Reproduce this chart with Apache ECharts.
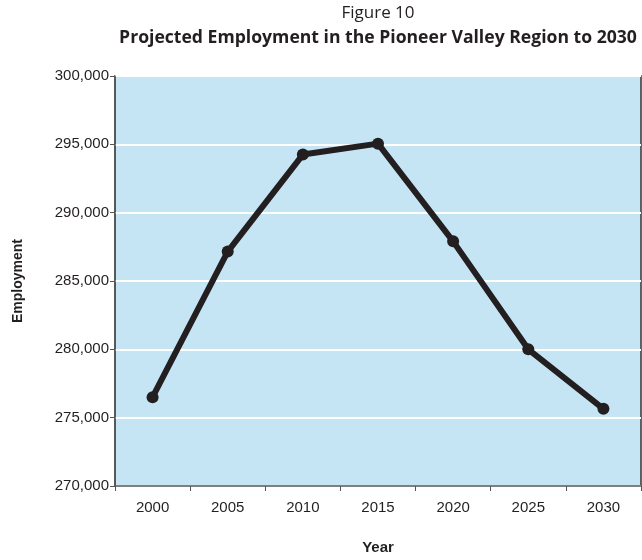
<!DOCTYPE html>
<html>
<head>
<meta charset="utf-8">
<script src="https://cdn.jsdelivr.net/npm/echarts@6/dist/echarts.min.js"></script>
<style>
  html, body { margin: 0; padding: 0; background: #fff; }
  #chart { width: 642px; height: 560px; }
</style>
</head>
<body>
<div id="chart"></div>
<script>
  // data
  var years = ['2000', '2005', '2010', '2015', '2020', '2025', '2030'];
  var employment = [276500, 287150, 294250, 295050, 287900, 280000, 275650];
  var yTicks = { min: 270000, max: 300000, step: 5000 };

  var ink = '#231f20';
  var labelFont = "'Liberation Sans Narrow', 'Arial Narrow', Arial, sans-serif";

  var myChart = echarts.init(document.getElementById('chart'));

  var option = {
    animation: false,
    graphic: [
      {
        type: 'text', x: 378, y: 13,
        style: { text: 'Figure 10', fill: ink, font: "17px 'Open Sans', sans-serif", align: 'center', verticalAlign: 'middle' }
      },
      {
        type: 'text', x: 378, y: 38,
        style: { text: 'Projected Employment in the Pioneer Valley Region to 2030', fill: ink, font: "bold 17.6px 'Open Sans', sans-serif", align: 'center', verticalAlign: 'middle' }
      }
    ],
    grid: {
      left: 115, right: 1, top: 76, bottom: 63,
      show: true,
      backgroundColor: '#c5e5f4',
      borderColor: '#333',
      borderWidth: 1.5
    },
    xAxis: {
      type: 'category',
      data: years,
      boundaryGap: true,
      name: 'Year',
      nameLocation: 'middle',
      nameGap: 54,
      nameTextStyle: { fontWeight: 'bold', fontSize: 15, color: ink, fontFamily: labelFont },
      axisLine: { lineStyle: { color: '#555', width: 1.5 } },
      axisTick: { show: true, length: 5, alignWithLabel: false, lineStyle: { color: '#555' } },
      axisLabel: { fontSize: 15, color: ink, margin: 14, fontFamily: labelFont },
      splitLine: { show: false }
    },
    yAxis: {
      type: 'value',
      min: yTicks.min,
      max: yTicks.max,
      interval: yTicks.step,
      name: 'Employment',
      nameLocation: 'middle',
      nameGap: 90,
      nameRotate: 90,
      nameTextStyle: { fontWeight: 'bold', fontSize: 14, color: ink, fontFamily: labelFont },
      axisLine: { show: true, lineStyle: { color: '#555', width: 1.5 } },
      axisTick: { show: true, length: 5, lineStyle: { color: '#555' } },
      axisLabel: {
        fontSize: 15, color: ink, margin: 6, fontFamily: labelFont,
        formatter: function (v) { return v.toLocaleString('en-US'); }
      },
      splitLine: { show: true, lineStyle: { color: '#ffffff', width: 2 } }
    },
    series: [
      {
        name: 'Employment',
        type: 'line',
        data: employment,
        symbol: 'circle',
        symbolSize: 12,
        smooth: false,
        lineStyle: { color: ink, width: 6 },
        itemStyle: { color: ink }
      }
    ]
  };

  myChart.setOption(option);
</script>
</body>
</html>
